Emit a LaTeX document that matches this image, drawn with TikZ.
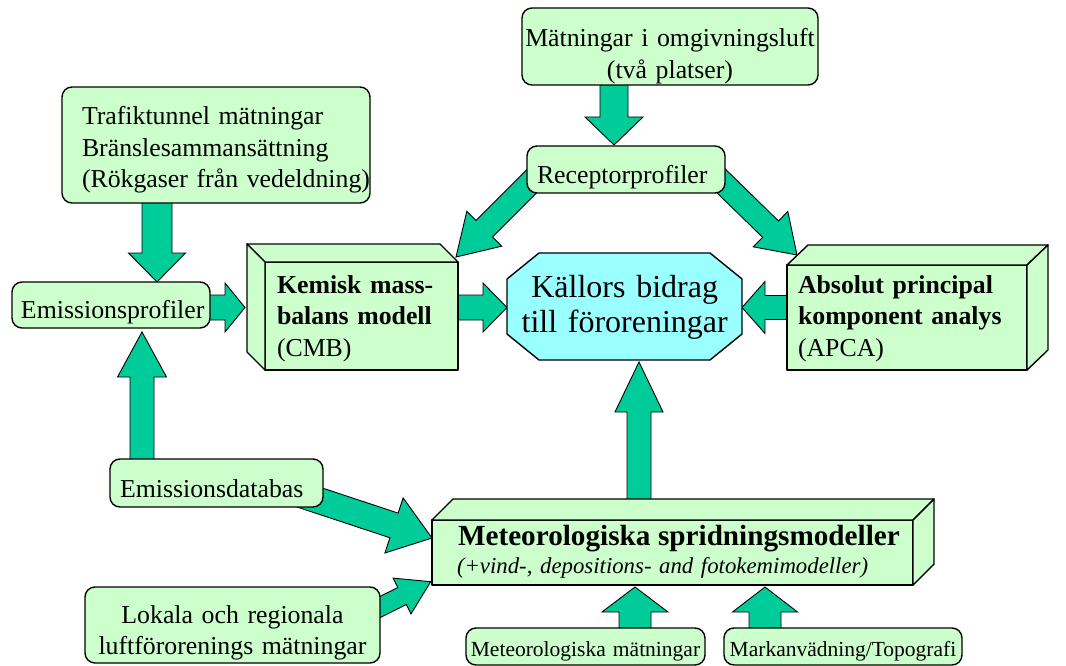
\documentclass[tikz,border=0pt]{standalone}
\usepackage{fontspec}
\setmainfont{Liberation Serif}
\usetikzlibrary{calc,backgrounds}
\definecolor{boxgreen}{HTML}{CCFFCC}
\definecolor{octcyan}{HTML}{99FFFF}
\definecolor{arrowgreen}{HTML}{00CC99}
\newcommand{\fsN}{\fontsize{25.8}{31.5}\selectfont}
\newcommand{\fsS}{\fontsize{21.5}{26}\selectfont}
\newcommand{\fatarrow}[5]{%
  \coordinate (fah) at ($(#2)!#5!(#1)$);
  \draw[fatarr] ($(#1)!#3!90:(#2)$) -- ($(fah)!#3!-90:(#1)$) -- ($(fah)!#4!-90:(#1)$) -- (#2) -- ($(fah)!#4!90:(#1)$) -- ($(fah)!#3!90:(#1)$) -- ($(#1)!#3!-90:(#2)$) -- cycle;}
\begin{document}
\begin{tikzpicture}[x=1pt,y=-1pt,
  rbox/.style={draw=black, line width=1.4pt, fill=boxgreen, rounded corners=10pt, inner sep=0pt, outer sep=0pt, font=\fsN},
  face/.style={draw=black, line width=1.4pt, fill=boxgreen, line join=round, inner sep=0pt, outer sep=0pt, font=\fsN},
  octface/.style={draw=black, line width=1.4pt, fill=octcyan, line join=round},
  fatarr/.style={draw=black, line width=0.9pt, fill=arrowgreen, line join=miter},
]
\useasboundingbox (0,0) rectangle (1066,666);

% rounded boxes
\node[rbox, anchor=north west, text width=296pt, align=center, text height=39pt, text depth=38pt] (amb) at (522,8) {Mätningar i omgivningsluft\\(två platser)};
\node[rbox, anchor=north west, text width=198pt, align=left, text height=37.3pt, text depth=9.7pt] (rec) at (527,146) {\hspace*{10pt}Receptorprofiler};
\node[rbox, anchor=north west, text width=308pt, align=left, text height=38pt, text depth=78pt] (traf) at (62,87) {\hspace*{20pt}Trafiktunnel mätningar\\\hspace*{20pt}Bränslesammansättning\\\hspace*{20pt}(Rökgaser från vedeldning)};
\node[rbox, anchor=north west, text width=198pt, align=left, text height=36pt, text depth=10pt] (eprof) at (12,282) {\hspace*{9pt}Emissionsprofiler};
\node[rbox, anchor=north west, text width=213pt, align=left, text height=38pt, text depth=10pt] (edb) at (110,459) {\hspace*{10pt}Emissionsdatabas};
\node[rbox, anchor=north west, text width=295pt, align=center, text height=36pt, text depth=40pt] (lok) at (85,587) {Lokala och regionala\\luftförorenings mätningar};
\node[rbox, font=\fsS, anchor=north west, text width=239pt, align=center, text height=28.7pt, text depth=8.3pt] (mmet) at (466,628) {Meteorologiska mätningar};
\node[rbox, font=\fsS, anchor=north west, text width=238pt, align=center, text height=28.7pt, text depth=8.3pt] (mark) at (724,628) {Markanvädning/Topografi};

% 3D boxes
\node[face, anchor=north west, text width=193pt, align=left, text height=31pt, text depth=77pt] (cmb) at (265,262) {\hspace*{12pt}\textbf{Kemisk mass-}\\\hspace*{12pt}\textbf{balans modell}\\\hspace*{12pt}(CMB)};
\draw[face] (cmb.north west) -- ++(-18,-18) -- ($(cmb.north east)+(-18,-18)$) -- (cmb.north east) -- cycle;
\draw[face] (cmb.north west) -- ++(-18,-18) -- ($(cmb.south west)+(-18,-18)$) -- (cmb.south west) -- cycle;

\node[face, anchor=north west, text width=240pt, align=left, text height=28pt, text depth=77pt] (apca) at (787,265) {\hspace*{11pt}\textbf{Absolut principal}\\\hspace*{11pt}\textbf{komponent analys}\\\hspace*{11pt}(APCA)};
\draw[face] (apca.north west) -- ++(21,-20) -- ($(apca.north east)+(21,-20)$) -- (apca.north east) -- cycle;
\draw[face] (apca.north east) -- ++(21,-20) -- ($(apca.south east)+(21,-20)$) -- (apca.south east) -- cycle;

\node[face, anchor=north west, text width=481pt, align=left, text height=25pt, text depth=40pt, font=\fontsize{22.8}{28}\selectfont] (met) at (432,520) {\hspace*{26pt}{\fontsize{29.2}{28}\selectfont\bfseries Meteorologiska spridningsmodeller}\\\hspace*{25pt}\textit{(+vind-, depositions- and fotokemimodeller)}};
\draw[face] (met.north west) -- ++(21,-21) -- ($(met.north east)+(21,-21)$) -- (met.north east) -- cycle;
\draw[face] (met.north east) -- ++(21,-21) -- ($(met.south east)+(21,-21)$) -- (met.south east) -- cycle;

% octagon
\draw[octface] (539,253) -- (710,253) -- (742,279) -- (742,334) -- (710,360) -- (539,360) -- (507,334) -- (507,279) -- cycle;
\node[inner sep=0pt, anchor=north west, text width=235pt, align=center, text height=44pt, text depth=63pt, font=\fontsize{32}{35}\selectfont] (oct) at (507,253) {Källors bidrag\\till föroreningar};

% arrows
\begin{scope}[on background layer]
\fill[white] (0,0) rectangle (1066,666);
\coordinate (a1s) at (614,80);   \coordinate (a1e) at (614,145);
\fatarrow{a1s}{a1e}{14pt}{29pt}{28pt}
\coordinate (a2s) at (157,198);  \coordinate (a2e) at (157,282);
\fatarrow{a2s}{a2e}{15pt}{28.5pt}{29pt}
\coordinate (a3s) at (205,307.5); \coordinate (a3e) at (245,307.5);
\fatarrow{a3s}{a3e}{12.5pt}{24.5pt}{20pt}
\coordinate (a4s) at (142,465);  \coordinate (a4e) at (142,332);
\fatarrow{a4s}{a4e}{12pt}{24.5pt}{45pt}
\coordinate (a5s) at (290,491);  \coordinate (a5e) at (432,538);
\fatarrow{a5s}{a5e}{13pt}{29pt}{40pt}
\coordinate (a6s) at (370,612);  \coordinate (a6e) at (430.7,581.7);
\fatarrow{a6s}{a6e}{9.5pt}{20pt}{32pt}
\coordinate (a7s) at (639,505);  \coordinate (a7e) at (639,362);
\fatarrow{a7s}{a7e}{12pt}{24pt}{50pt}
\coordinate (a8s) at (450,307.5); \coordinate (a8e) at (507,307.5);
\fatarrow{a8s}{a8e}{12.5pt}{24.5pt}{24pt}
\coordinate (a9s) at (795,307.5); \coordinate (a9e) at (742,307.5);
\fatarrow{a9s}{a9e}{12pt}{26pt}{23pt}
\coordinate (a10s) at (540,173); \coordinate (a10e) at (456,257);
\fatarrow{a10s}{a10e}{11.7pt}{24.7pt}{40pt}
\coordinate (a11s) at (712,172); \coordinate (a11e) at (797,255);
\fatarrow{a11s}{a11e}{11.4pt}{24.7pt}{37pt}
\coordinate (a12s) at (635,633); \coordinate (a12e) at (635,587);
\fatarrow{a12s}{a12e}{16pt}{33pt}{25pt}
\coordinate (a13s) at (765,633); \coordinate (a13e) at (765,587);
\fatarrow{a13s}{a13e}{16pt}{32.5pt}{25pt}
\end{scope}
\end{tikzpicture}
\end{document}
